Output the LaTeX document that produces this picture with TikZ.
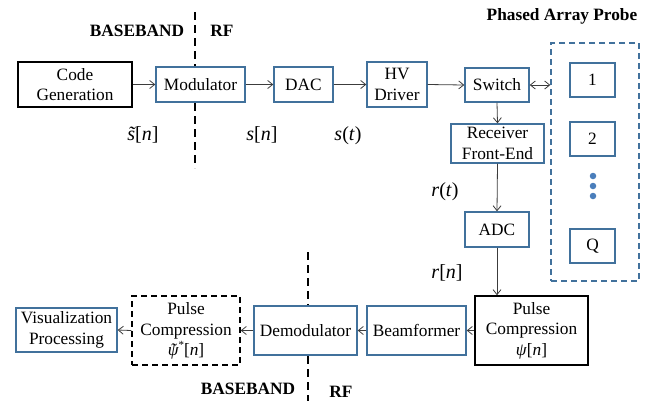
\documentclass[tikz,border=0pt]{standalone}
\usepackage{fontspec}
\setmainfont{LiberationSerif}[Extension=.ttf, UprightFont=*-Regular, BoldFont=*-Bold, ItalicFont=*-Italic, BoldItalicFont=*-BoldItalic]
\usetikzlibrary{arrows.meta}
\definecolor{boxblue}{RGB}{65,113,156}
\definecolor{dotblue}{RGB}{74,126,187}
\definecolor{linegray}{RGB}{60,60,60}
\newcommand\tld[1]{\leavevmode\hbox{\ooalign{#1\cr\hidewidth\char"02DC\hidewidth\cr}}}
\tikzset{
  base/.style={font=\fontsize{17.3}{20.5}\selectfont, align=center, inner sep=0pt, fill=white},
  bluebox/.style={base, draw=boxblue, line width=1.4pt},
  blackbox/.style={base, draw=black, line width=1.6pt},
  dashbox/.style={base, draw=black, line width=1.4pt, dash pattern=on 6pt off 4pt},
  probebox/.style={draw=boxblue, line width=1.4pt, dash pattern=on 6pt off 4pt, inner sep=0pt},
  conn/.style={draw=linegray, line width=0.8pt, -{Straight Barb[length=5pt,width=8pt]}},
  biconn/.style={draw=linegray, line width=0.8pt, {Straight Barb[length=5pt,width=8pt]}-{Straight Barb[length=5pt,width=8pt]}},
  divider/.style={draw=black, line width=2.6pt, dash pattern=on 8pt off 5pt},
  sig/.style={font=\fontsize{20}{22}\selectfont, inner sep=0pt},
  zone/.style={font=\fontsize{17.3}{20}\selectfont\bfseries, inner sep=0pt},
  dot/.style={circle, fill=dotblue, inner sep=0pt, minimum size=6.5pt}
}
\begin{document}
\begin{tikzpicture}[x=1pt,y=-1pt]
\useasboundingbox (0,0) rectangle (655,400);
% dividers
\coordinate (dtA) at (195,12);
\coordinate (dtB) at (195,168);
\coordinate (dbA) at (308,252);
\coordinate (dbB) at (308,402);
\draw[divider] (dtA) -- (dtB);
\draw[divider] (dbA) -- (dbB);
% top row
\node[blackbox, minimum width=114pt, minimum height=45pt] (code) at (75,84.5) {Code\\Generation};
\node[bluebox, minimum width=89pt, minimum height=35pt] (mod) at (200.5,84.5) {Modulator};
\node[bluebox, minimum width=59pt, minimum height=35pt] (dac) at (303.5,84.5) {DAC};
\node[bluebox, minimum width=60pt, minimum height=45pt] (hv) at (397,84.5) {HV\\Driver};
\node[bluebox, minimum width=64pt, minimum height=34pt] (sw) at (497,85) {Switch};
\node[bluebox, minimum width=93pt, minimum height=39pt] (rx) at (497.5,143.5) {Receiver\\Front-End};
\node[bluebox, minimum width=64pt, minimum height=35pt] (adc) at (497,229.5) {ADC};
% probe
\node[probebox, minimum width=88pt, minimum height=238pt] (probe) at (595,162) {};
\node[bluebox, minimum width=45pt, minimum height=34pt] (e1) at (592.5,80) {1};
\node[bluebox, minimum width=45pt, minimum height=34pt] (e2) at (592.5,139) {2};
\node[bluebox, minimum width=45pt, minimum height=34pt] (eq) at (592.5,246) {Q};
\node[dot] (d1) at (593,176) {};
\node[dot] (d2) at (593,186) {};
\node[dot] (d3) at (593,196) {};
% bottom row
\node[blackbox, minimum width=113pt, minimum height=69pt] (pc) at (531.5,330.5) {Pulse\\Compression\\\textit{ψ}[\textit{n}]};
\node[bluebox, minimum width=99pt, minimum height=49pt] (bf) at (416.5,330.5) {Beamformer};
\node[bluebox, minimum width=103pt, minimum height=49pt] (dem) at (305.5,330.5) {Demodulator};
\node[dashbox, minimum width=108pt, minimum height=69pt] (pcd) at (186,330.5) {Pulse\\Compression\\\textit{\tld{ψ}}\raisebox{7pt}{\fontsize{11}{11}\selectfont *}[\textit{n}]};
\node[bluebox, minimum width=101pt, minimum height=44pt] (viz) at (66.5,330) {Visualization\\Processing};
% connectors
\draw[conn] (code.east) -- (mod.west);
\draw[conn] (mod.east) -- (dac.west);
\draw[conn] (dac.east) -- (hv.west);
\draw[conn] (hv.east) -- (sw.west);
\draw[biconn] (sw.east) -- (sw.east -| probe.west);
\draw[conn] (sw.south) -- (rx.north);
\draw[conn] (rx.south) -- (adc.north);
\draw[conn] (adc.south) -- (adc.south |- pc.north);
\draw[conn] (pc.west) -- (bf.east);
\draw[conn] (bf.west) -- (dem.east);
\draw[conn] (dem.west) -- (pcd.east);
\draw[conn] (pcd.west) -- (viz.east);
% labels
\node[sig] (l1) at (143,135) {\textit{\tld{s}}[\textit{n}]};
\node[sig] (l2) at (262,135) {\textit{s}[\textit{n}]};
\node[sig] (l3) at (348,136) {\textit{s}(\textit{t})};
\node[sig] (l4) at (445,192) {\textit{r}(\textit{t})};
\node[sig] (l5) at (447,273) {\textit{r}[\textit{n}]};
\node[zone] (bbt) at (137,31) {BASEBAND};
\node[zone] (rft) at (222,31) {RF};
\node[zone] (pap) at (562,16) {Phased Array Probe};
\node[zone] (bbb) at (248,389) {BASEBAND};
\node[zone] (rfb) at (341,392) {RF};
\end{tikzpicture}
\end{document}
